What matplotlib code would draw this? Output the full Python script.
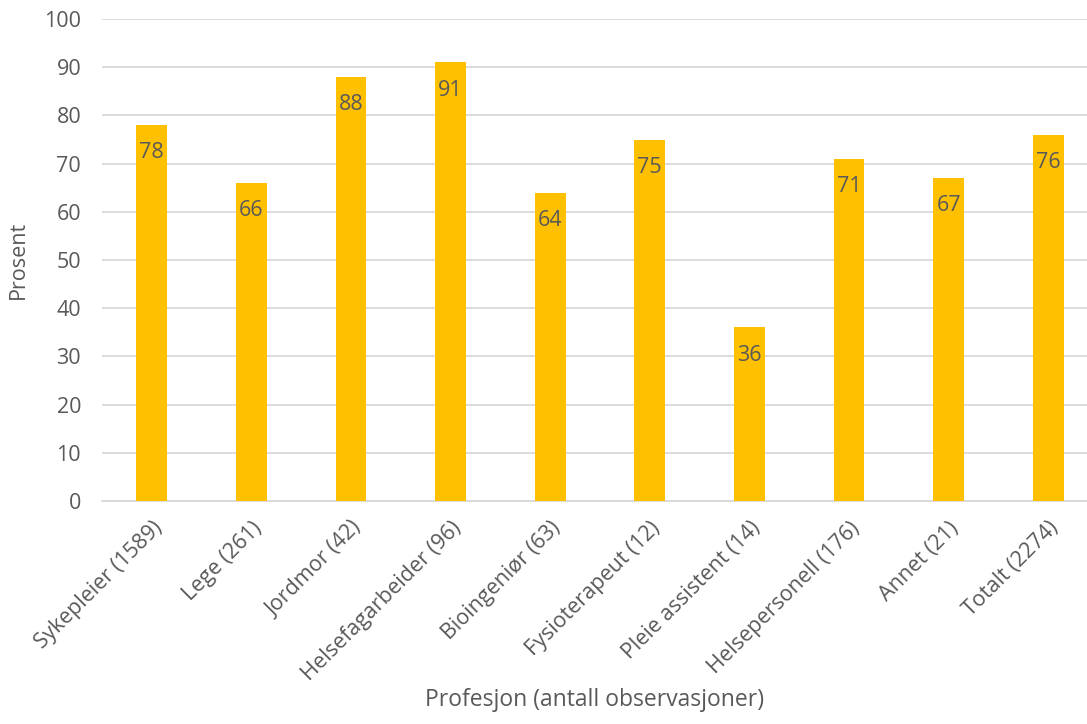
import matplotlib
matplotlib.use("Agg")
import matplotlib.pyplot as plt

categories = ["Sykepleier (1589)", "Lege (261)", "Jordmor (42)", "Helsefagarbeider (96)",
              "Bioingeniør (63)", "Fysioterapeut (12)", "Pleie assistent (14)",
              "Helsepersonell (176)", "Annet (21)", "Totalt (2274)"]
values = [78, 66, 88, 91, 64, 75, 36, 71, 67, 76]
yticks = [0, 10, 20, 30, 40, 50, 60, 70, 80, 90, 100]

text_color = "#595959"
bar_color = "#FFC000"
grid_color = "#D9D9D9"

plt.rcParams["font.family"] = ["Open Sans", "DejaVu Sans"]

W, H = 1087, 724
fig = plt.figure(figsize=(W / 100, H / 100), dpi=100)
ax = fig.add_axes([102 / W, 1 - 501 / H, 996 / W, 482 / H])

x = list(range(len(categories)))
ax.bar(x, values, width=0.31, color=bar_color, zorder=3)

for xi, v in zip(x, values):
    ax.annotate(str(v), (xi, v), xytext=(0, -20), textcoords="offset points",
                ha="center", va="center", fontsize=15.5, color=text_color, zorder=4)

ax.set_xlim(-0.5, len(categories) - 0.5)
ax.set_ylim(0, 100)
ax.set_yticks(yticks)
ax.set_yticklabels([str(t) for t in yticks], fontsize=15.5, color=text_color)
ax.yaxis.grid(True, color=grid_color, linewidth=1.3, zorder=0)
ax.set_axisbelow(True)

ax.set_xticks(x)
ax.set_xticklabels(categories, rotation=45, ha="right", va="top",
                   rotation_mode="anchor", fontsize=15.5, color=text_color)
ax.tick_params(axis="both", length=0)
ax.tick_params(axis="x", pad=12)
ax.tick_params(axis="y", pad=15)

for side in ["top", "right", "left"]:
    ax.spines[side].set_visible(False)
ax.spines["bottom"].set_color(grid_color)
ax.spines["bottom"].set_linewidth(1.3)

ax.set_ylabel("Prosent", fontsize=15.5, color=text_color)
ax.yaxis.set_label_coords(-73 / 996, 0.5)
fig.text(595 / W, 1 - 700 / H, "Profesjon (antall observasjoner)", ha="center", va="center",
         fontsize=16.5, color=text_color)

fig.savefig("out.png", dpi=100)
